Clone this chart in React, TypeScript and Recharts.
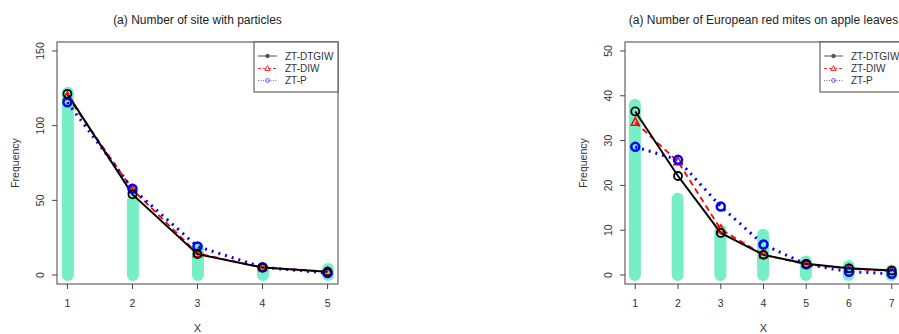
import React from 'react';
import { ComposedChart, Bar, Line, XAxis, YAxis } from 'recharts';

// ---------- Data ----------
const sitesX = [1, 2, 3, 4, 5];
const sitesObserved = [122, 50, 18, 4, 4];
const sitesDTGIW = [121.3, 54, 14, 5, 2.2];
const sitesDIW = [119.6, 57.3, 14.5, 5, 2.3];
const sitesP = [115.6, 57.8, 19.1, 5.2, 1.3];
const sitesXTicks = [1, 2, 3, 4, 5];
const sitesYTicks = [0, 50, 100, 150];

const mitesX = [1, 2, 3, 4, 5, 6, 7];
const mitesObserved = [38, 17, 10, 9, 3, 2, 1];
const mitesDTGIW = [36.5, 22.1, 9.4, 4.5, 2.5, 1.5, 1.0];
const mitesDIW = [34.1, 25.3, 10.2, 4.5, 2.4, 1.4, 0.9];
const mitesP = [28.6, 25.7, 15.3, 6.8, 2.4, 0.75, 0.3];
const mitesXTicks = [1, 2, 3, 4, 5, 6, 7];
const mitesYTicks = [0, 10, 20, 30, 40, 50];

const seriesNames = ['ZT-DTGIW', 'ZT-DIW', 'ZT-P'];

const buildRows = (xs: number[], obs: number[], a: number[], b: number[], c: number[]) =>
  xs.map((x, i) => ({ x, obs: obs[i], dtgiw: a[i], diw: b[i], p: c[i] }));

const sitesRows = buildRows(sitesX, sitesObserved, sitesDTGIW, sitesDIW, sitesP);
const mitesRows = buildRows(mitesX, mitesObserved, mitesDTGIW, mitesDIW, mitesP);

// ---------- Styles ----------
const FONT = '"Liberation Sans", Arial, Helvetica, sans-serif';
const BAR_COLOR = '#76EEC6';
const FRAME = '#444';
const TEXT = '#333';

const BarShape = (props: any) => {
  const { x, y, width, height } = props;
  if (x == null || y == null) return null;
  const cx = x + width / 2;
  return (
    <line x1={cx} x2={cx} y1={y} y2={y + height} stroke={BAR_COLOR} strokeWidth={12} strokeLinecap="round" />
  );
};

const BlackDot = (props: any) => {
  const { cx, cy } = props;
  if (cx == null || cy == null) return null;
  return <circle cx={cx} cy={cy} r={4} fill="none" stroke="#000" strokeWidth={1.8} />;
};
const RedTri = (props: any) => {
  const { cx, cy } = props;
  if (cx == null || cy == null) return null;
  return (
    <path d={`M${cx},${cy - 4.5}L${cx - 4},${cy + 3}L${cx + 4},${cy + 3}Z`} fill="none" stroke="#FF0000" strokeWidth={1.5} />
  );
};
const BlueDot = (props: any) => {
  const { cx, cy } = props;
  if (cx == null || cy == null) return null;
  return <circle cx={cx} cy={cy} r={4} fill="none" stroke="#0000FF" strokeWidth={2.5} />;
};

const YTick = (props: any) => {
  const { x, y, payload } = props;
  return (
    <text x={x} y={y} transform={`rotate(-90, ${x}, ${y})`} textAnchor="middle" fontSize={10.5} fill={TEXT} fontFamily={FONT}>
      {payload.value}
    </text>
  );
};
const XTick = (props: any) => {
  const { x, y, payload } = props;
  return (
    <text x={x} y={y} textAnchor="middle" fontSize={10.5} fill={TEXT} fontFamily={FONT}>
      {payload.value}
    </text>
  );
};

type PanelProps = {
  title: string;
  rows: any[];
  xDomain: [number, number];
  yDomain: [number, number];
  xTicks: number[];
  yTicks: number[];
  svgWidth: number;
  plotLeft: number;
  plotRight: number;
  legendLeft: number;
};

const H = 334;
const PLOT_TOP = 42;
const PLOT_BOTTOM = 284;
const Y_AXIS_W = 40;
const X_AXIS_H = 30;

const Panel = ({ title, rows, xDomain, yDomain, xTicks, yTicks, svgWidth, plotLeft, plotRight, legendLeft }: PanelProps) => {
  const cxPlot = (plotLeft + plotRight) / 2;
  const cyPlot = (PLOT_TOP + PLOT_BOTTOM) / 2;
  const legW = plotRight - legendLeft;
  const rowsY = [56, 68.5, 80.5];
  return (
    <ComposedChart
      width={svgWidth}
      height={H}
      data={rows}
      margin={{ top: PLOT_TOP, bottom: H - PLOT_BOTTOM - X_AXIS_H, left: plotLeft - Y_AXIS_W, right: svgWidth - plotRight }}
      style={{ fontFamily: FONT }}
    >
      <XAxis
        dataKey="x"
        type="number"
        domain={xDomain}
        ticks={xTicks}
        allowDataOverflow
        axisLine={false}
        tickLine={{ stroke: FRAME }}
        tickSize={5}
        tickMargin={18}
        height={X_AXIS_H}
        tick={<XTick />}
        interval={0}
      />
      <YAxis
        type="number"
        domain={yDomain}
        ticks={yTicks}
        allowDataOverflow
        axisLine={false}
        tickLine={{ stroke: FRAME }}
        tickSize={5}
        tickMargin={8}
        width={Y_AXIS_W}
        tick={<YTick />}
        interval={0}
      />
      <Bar dataKey="obs" barSize={12} shape={<BarShape />} isAnimationActive={false} />
      <Line dataKey="diw" type="linear" stroke="#FF0000" strokeWidth={1.8} strokeDasharray="6 4" dot={<RedTri />} activeDot={false} isAnimationActive={false} />
      <Line dataKey="p" type="linear" stroke="#0000FF" strokeWidth={3} strokeDasharray="2 5" dot={<BlueDot />} activeDot={false} isAnimationActive={false} />
      <Line dataKey="dtgiw" type="linear" stroke="#000" strokeWidth={2} dot={<BlackDot />} activeDot={false} isAnimationActive={false} />

      <rect x={plotLeft} y={PLOT_TOP} width={plotRight - plotLeft} height={PLOT_BOTTOM - PLOT_TOP} fill="none" stroke={FRAME} strokeWidth={1} />
      <text x={cxPlot} y={24} textAnchor="middle" fontSize={12} fill="#222" fontFamily={FONT}>{title}</text>
      <text x={cxPlot} y={332} textAnchor="middle" fontSize={11} fill={TEXT} fontFamily={FONT}>X</text>
      <text x={plotLeft - 38} y={cyPlot} transform={`rotate(-90, ${plotLeft - 38}, ${cyPlot})`} textAnchor="middle" fontSize={10.5} fill={TEXT} fontFamily={FONT}>Frequency</text>

      <g>
        <rect x={legendLeft} y={PLOT_TOP} width={legW} height={50} fill="#fff" stroke={FRAME} strokeWidth={1} />
        <line x1={legendLeft + 4} x2={legendLeft + 23} y1={rowsY[0]} y2={rowsY[0]} stroke="#555" strokeWidth={1} />
        <circle cx={legendLeft + 13.5} cy={rowsY[0]} r={1.8} fill="#555" stroke="#555" />
        <line x1={legendLeft + 4} x2={legendLeft + 23} y1={rowsY[1]} y2={rowsY[1]} stroke="#FF3333" strokeWidth={1} strokeDasharray="3 2" />
        <path d={`M${legendLeft + 13.5},${rowsY[1] - 3}L${legendLeft + 10.8},${rowsY[1] + 2}L${legendLeft + 16.2},${rowsY[1] + 2}Z`} fill="none" stroke="#FF3333" strokeWidth={1} />
        <line x1={legendLeft + 4} x2={legendLeft + 23} y1={rowsY[2]} y2={rowsY[2]} stroke="#6666FF" strokeWidth={1} strokeDasharray="1 1.5" />
        <circle cx={legendLeft + 13.5} cy={rowsY[2]} r={2} fill="none" stroke="#6666FF" strokeWidth={1} />
        {seriesNames.map((n, i) => (
          <text key={n} x={legendLeft + 31} y={rowsY[i] + 3.5} fontSize={10} fill={TEXT} fontFamily={FONT}>{n}</text>
        ))}
      </g>
    </ComposedChart>
  );
};

export default function App() {
  return (
    <div style={{ position: 'absolute', left: 0, top: 0, width: 899, height: 334, overflow: 'hidden', background: '#fff' }}>
      <div style={{ position: 'absolute', left: 0, top: 0 }}>
        <Panel
          title="(a) Number of site with particles"
          rows={sitesRows}
          xDomain={[0.84, 5.16]}
          yDomain={[-6, 156]}
          xTicks={sitesXTicks}
          yTicks={sitesYTicks}
          svgWidth={450}
          plotLeft={57}
          plotRight={338}
          legendLeft={254}
        />
      </div>
      <div style={{ position: 'absolute', left: 450, top: 0 }}>
        <Panel
          title="(a) Number of European red mites on apple leaves"
          rows={mitesRows}
          xDomain={[0.76, 7.24]}
          yDomain={[-2, 52]}
          xTicks={mitesXTicks}
          yTicks={mitesYTicks}
          svgWidth={460}
          plotLeft={175}
          plotRight={452}
          legendLeft={370}
        />
      </div>
    </div>
  );
}
